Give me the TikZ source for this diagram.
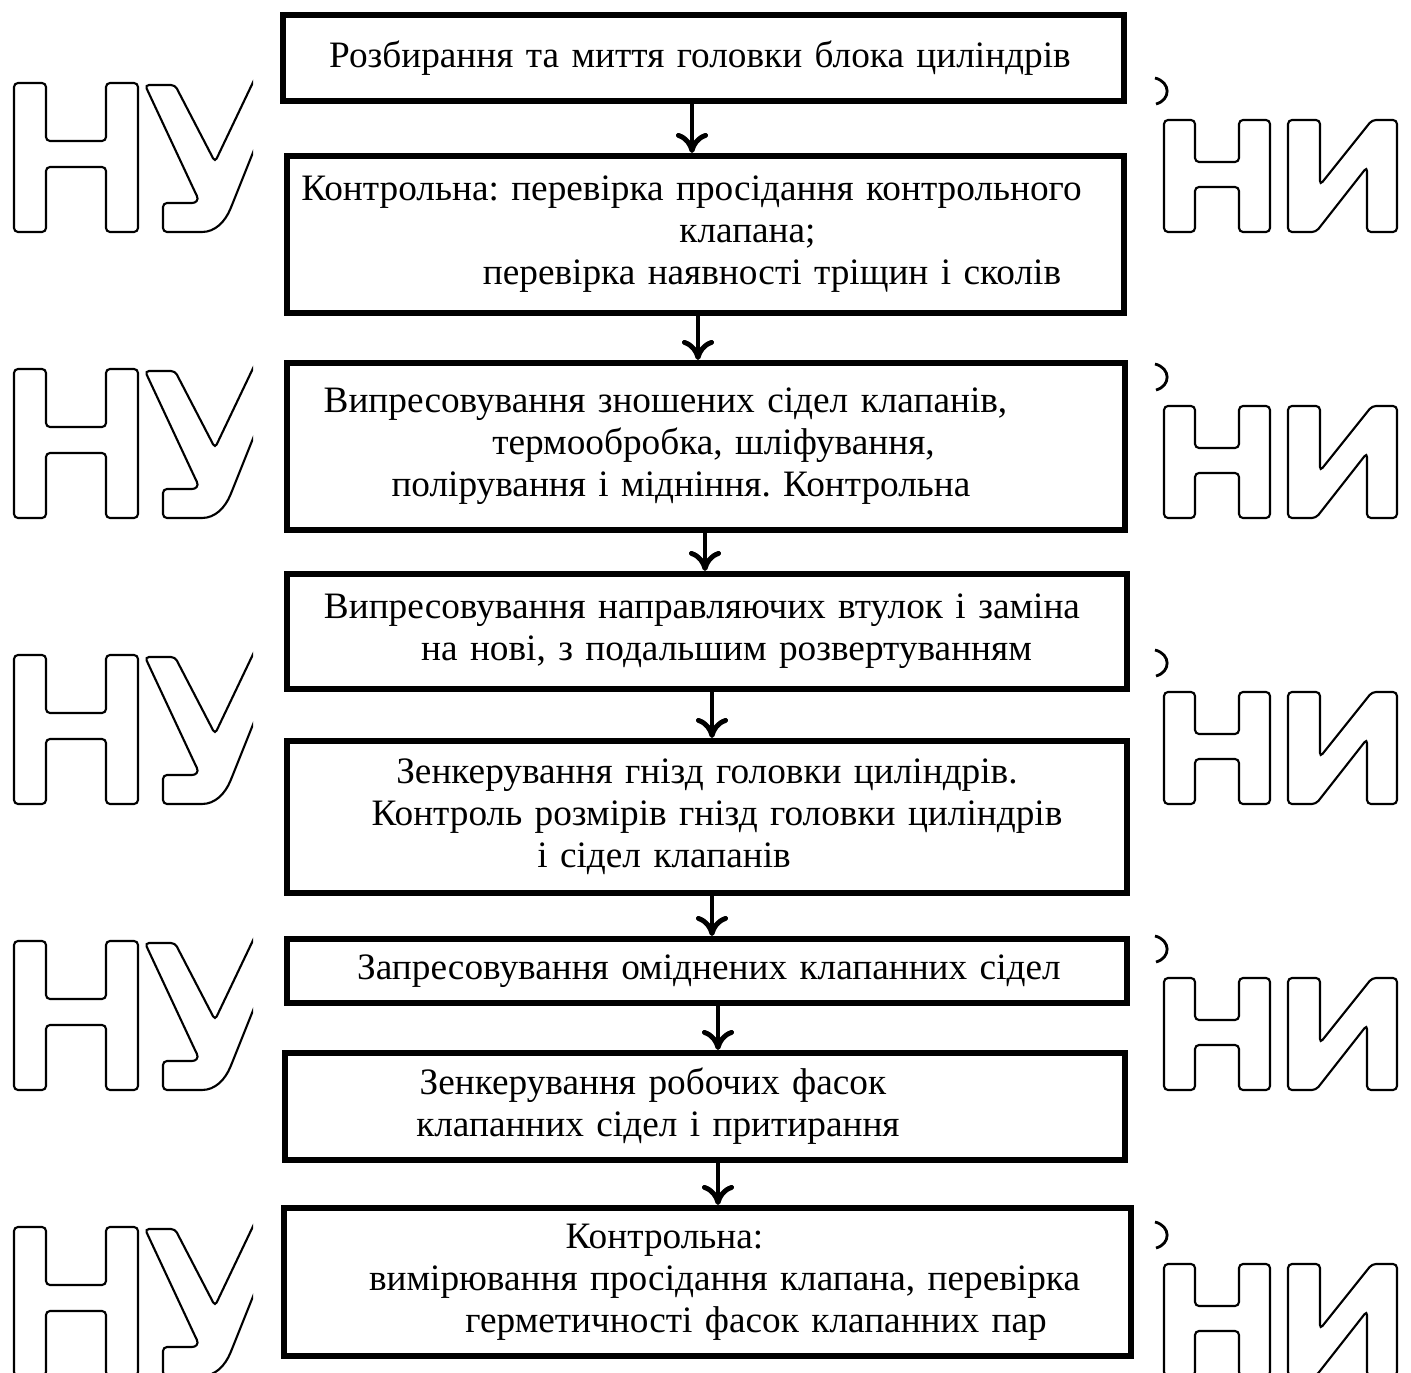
\documentclass[tikz,border=0pt]{standalone}
\usepackage{fontspec}
\setmainfont{Liberation Serif}
\usepackage{tikz}
\usetikzlibrary{arrows.meta,positioning}
\frenchspacing

% контурні літери на полях (один ряд, #1 -- зсув униз)
\newcommand{\vodyaznak}[1]{%
  \begin{scope}[shift={(0,#1)}, wm]
    \begin{scope}
      \clip (0,0) rectangle (253,300);
      \draw (14,83) -- (46,83) -- (46,141) -- (106,141) -- (106,83) -- (138,83) -- (138,232)
        -- (106,232) -- (106,167) -- (46,167) -- (46,232) -- (14,232) -- cycle;
      \draw (256,76) -- (215,162) -- (175,85) -- (145,85) -- (195,192)
        .. controls (199,200) and (196,203) .. (188,203) -- (163,203) -- (163,232) -- (198,232)
        .. controls (215,232) and (225,222) .. (232,205) -- (256,145);
    \end{scope}
    \draw (1164,120) -- (1195,120) -- (1195,162) -- (1239,162) -- (1239,120) -- (1270,120) -- (1270,232)
      -- (1239,232) -- (1239,187) -- (1195,187) -- (1195,232) -- (1164,232) -- cycle;
    \draw (1288,120) -- (1320,120) -- (1320,185) -- (1372,120) -- (1397,120) -- (1397,232)
      -- (1367,232) -- (1367,167) -- (1316,232) -- (1288,232) -- cycle;
    \draw[sharp corners, line width=0.8pt] (1155,78) .. controls (1171,82) and (1171,100) .. (1156,104);
  \end{scope}}

\begin{document}
\begin{tikzpicture}[x=0.01cm, y=-0.01cm,
    box/.style={draw, line width=1.7pt, align=center, inner xsep=0pt, inner ysep=0pt,
      font=\fontsize{10.6}{11.95}\selectfont},
    flow/.style={-{To[length=2mm, width=3.2mm]}, line width=1.4pt},
    wm/.style={line width=0.6pt, rounded corners=0.4mm}]
    \useasboundingbox (0,0) rectangle (1411,1373);

    % водяні знаки
    \vodyaznak{0}
    \vodyaznak{286}
    \vodyaznak{572}
    \vodyaznak{858}
    \vodyaznak{1144}

    % етапи
    \node[box, text width=8.41cm, minimum height=0.86cm] (roz) at (703.5,58)
      {\hspace*{-0.7mm}Розбирання та миття головки блока циліндрів};
    \node[box, text width=8.37cm, minimum height=1.57cm] (kon) at (705.5,234.5)
      {\hspace*{-2.8mm}Контрольна: перевірка просідання контрольного\\
       \hspace*{8.4mm}клапана;\\
       \hspace*{13.3mm}перевірка наявності тріщин і сколів};
    \node[box, text width=8.38cm, minimum height=1.67cm] (vyp) at (706,446.5)
      {\hspace*{-8.1mm}Випресовування зношених сідел клапанів,\\
       \hspace*{1.5mm}термообробка, шліфування,\\
       \hspace*{-5mm}полірування і мідніння. Контрольна};
    \node[box, text width=8.4cm, minimum height=1.15cm] (vtu) at (707,631.5)
      {\hspace*{-1mm}Випресовування направляючих втулок і заміна\\
       \hspace*{3.9mm}на нові, з подальшим розвертуванням};
    \node[box, text width=8.4cm, minimum height=1.52cm] (zen) at (707,817)
      {Зенкерування гнізд головки циліндрів.\\
       \hspace*{2mm}Контроль розмірів гнізд головки циліндрів\\
       \hspace*{-8.6mm}і сідел клапанів};
    \node[box, text width=8.4cm, minimum height=0.64cm] (zap) at (707,971)
      {\hspace*{0.4mm}Запресовування оміднених клапанних сідел};
    \node[box, text width=8.4cm, minimum height=1.07cm] (fas) at (705,1106.5)
      {\hspace*{-10.4mm}Зенкерування робочих фасок\\
       \hspace*{-9.4mm}клапанних сідел і притирання};
    \node[box, text width=8.47cm, minimum height=1.48cm] (vym) at (707.5,1282)
      {\hspace*{-8.6mm}Контрольна:\\
       \hspace*{3.4mm}вимірювання просідання клапана, перевірка\\
       \hspace*{9.7mm}герметичності фасок клапанних пар};

    % стрілки
    \draw[flow] ([xshift=-1.15mm]roz.south) -- ([xshift=-1.15mm]roz.south |- kon.north);
    \draw[flow] ([xshift=-0.75mm]kon.south) -- ([xshift=-0.75mm]kon.south |- vyp.north);
    \draw[flow] ([xshift=-0.1mm]vyp.south) -- ([xshift=-0.1mm]vyp.south |- vtu.north);
    \draw[flow] ([xshift=0.5mm]vtu.south) -- ([xshift=0.5mm]vtu.south |- zen.north);
    \draw[flow] ([xshift=0.5mm]zen.south) -- ([xshift=0.5mm]zen.south |- zap.north);
    \draw[flow] ([xshift=1.1mm]zap.south) -- ([xshift=1.1mm]zap.south |- fas.north);
    \draw[flow] ([xshift=1.3mm]fas.south) -- ([xshift=1.3mm]fas.south |- vym.north);
\end{tikzpicture}
\end{document}
